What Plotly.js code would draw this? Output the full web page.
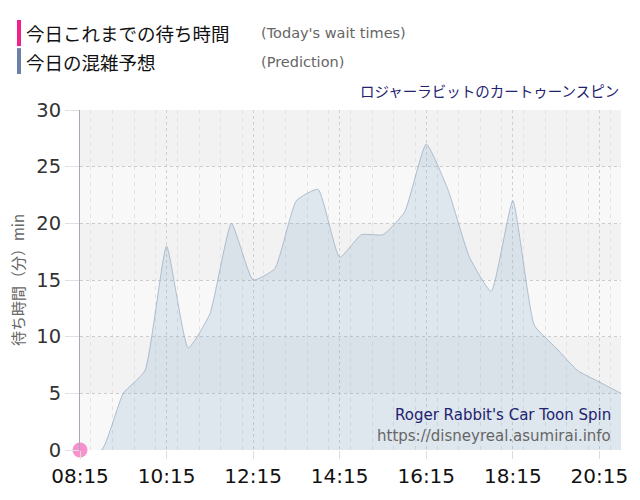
<!DOCTYPE html>
<html>
<head>
<meta charset="utf-8">
<script src="https://cdn.plot.ly/plotly-3.0.1.min.js"></script>
<style>
  html, body { margin: 0; padding: 0; background: #fff; }
  #chart { width: 640px; height: 500px; }
</style>
</head>
<body>
<div id="chart"></div>
<script>
// 予想 (30分毎)
const predTimes = ["08:15", "08:45", "09:15", "09:45", "10:15", "10:45", "11:15", "11:45",
                   "12:15", "12:45", "13:15", "13:45", "14:15", "14:45", "15:15", "15:45",
                   "16:15", "16:45", "17:15", "17:45", "18:15", "18:45", "19:15", "19:45",
                   "20:15", "20:45"];
const predWait = [0, 0, 5, 7, 18, 9, 12, 20,
                  15, 16, 22, 23, 17, 19, 19, 21,
                  27, 23, 17, 14, 22, 11, 9, 7,
                  6, 5];

// 今日これまでの待ち時間
const todayTimes = ["08:15"];
const todayWait = [0];

const yTicks = [0, 5, 10, 15, 20, 25, 30];
const day = "2024-05-01 ";
const toDate = t => day + t;

const predTrace = {
    x: predTimes.map(toDate),
    y: predWait,
    type: 'scatter',
    mode: 'lines',
    line: { color: 'rgba(150,170,190,0.7)', width: 1, shape: 'spline', smoothing: 0.45 },
    fill: 'tozeroy',
    fillcolor: 'rgba(120,160,200,0.2)',
    hoverinfo: 'skip'
};

const todayTrace = {
    x: todayTimes.map(toDate),
    y: todayWait,
    type: 'scatter',
    mode: 'markers',
    marker: { color: 'rgba(245,110,190,0.75)', size: 15 },
    cliponaxis: false,
    hoverinfo: 'skip'
};

// 背景の縞 (5分毎に交互)
const shapes = [];
for (let i = 0; i < yTicks.length - 1; i++) {
    if ((yTicks.length - 2 - i) % 2 === 0) {
        shapes.push({
            type: 'rect', layer: 'below', xref: 'paper', yref: 'y',
            x0: 0, x1: 1, y0: yTicks[i], y1: yTicks[i + 1],
            fillcolor: '#f2f2f2', line: { width: 0 }
        });
    }
}
// 凡例のバー
shapes.push({ type: 'rect', xref: 'paper', yref: 'paper', x0: -0.1165, x1: -0.109, y0: 1.188, y1: 1.2647,
              fillcolor: '#f0208f', line: { width: 0 } });
shapes.push({ type: 'rect', xref: 'paper', yref: 'paper', x0: -0.1165, x1: -0.109, y0: 1.106, y1: 1.182,
              fillcolor: '#6b80a8', line: { width: 0 } });

const jp = '"Noto Sans CJK JP", sans-serif';
const lat = '"DejaVu Sans", Verdana, sans-serif';

const annotations = [
    { text: '今日これまでの待ち時間', x: -0.104, y: 1.2265, xanchor: 'left', yanchor: 'middle',
      font: { family: jp, size: 18.5, color: '#111' } },
    { text: "(Today's wait times)", x: 0.33, y: 1.2265, xanchor: 'left', yanchor: 'middle',
      font: { family: lat, size: 14.5, color: '#666' } },
    { text: '今日の混雑予想', x: -0.104, y: 1.1412, xanchor: 'left', yanchor: 'middle',
      font: { family: jp, size: 18.5, color: '#111' } },
    { text: '(Prediction)', x: 0.33, y: 1.1412, xanchor: 'left', yanchor: 'middle',
      font: { family: lat, size: 14.5, color: '#666' } },
    { text: 'ロジャーラビットのカートゥーンスピン', x: 1.0, y: 1.0559, xanchor: 'right', yanchor: 'middle',
      font: { family: jp, size: 14.5, color: '#22226e' } },
    { text: "Roger Rabbit's Car Toon Spin", x: 0.985, y: 0.1029, xanchor: 'right', yanchor: 'middle',
      font: { family: lat, size: 15, color: '#22226e' } },
    { text: 'https://disneyreal.asumirai.info', x: 0.985, y: 0.041, xanchor: 'right', yanchor: 'middle',
      font: { family: lat, size: 15, color: '#666' } }
].map(a => Object.assign({ xref: 'paper', yref: 'paper', showarrow: false }, a));

const layout = {
    width: 640, height: 500,
    margin: { l: 80, r: 19, t: 110, b: 50 },
    paper_bgcolor: '#ffffff',
    plot_bgcolor: '#f8f8f8',
    showlegend: false,
    xaxis: {
        type: 'date',
        range: [toDate("08:15"), toDate("20:45")],
        tick0: toDate("08:15"),
        dtick: 2 * 60 * 60 * 1000,
        tickformat: '%H:%M',
        ticks: 'outside', ticklen: 8, tickcolor: '#dddddd',
        showgrid: true, gridcolor: '#d0d0d0', griddash: 'dot',
        minor: { dtick: 30 * 60 * 1000, showgrid: true, gridcolor: '#e2e2e2', griddash: '4px,4px', ticks: '' },
        zeroline: false,
        showline: false,
        tickfont: { family: lat, size: 20, color: '#111' },
        fixedrange: true
    },
    yaxis: {
        range: [0, 30],
        tickvals: yTicks,
        ticks: 'outside', ticklen: 14, tickcolor: '#e0e0e0',
        showgrid: true, gridcolor: '#cccccc', griddash: 'dot',
        zeroline: false,
        showline: true, linecolor: '#a8a8b8', linewidth: 1,
        tickfont: { family: lat, size: 19.5, color: '#333' },
        title: { text: '待ち時間（分）min', font: { family: jp, size: 15, color: '#666' }, standoff: 8 },
        fixedrange: true
    },
    shapes: shapes,
    annotations: annotations
};

Plotly.newPlot('chart', [predTrace, todayTrace], layout, { displayModeBar: false, staticPlot: true });
</script>
</body>
</html>
